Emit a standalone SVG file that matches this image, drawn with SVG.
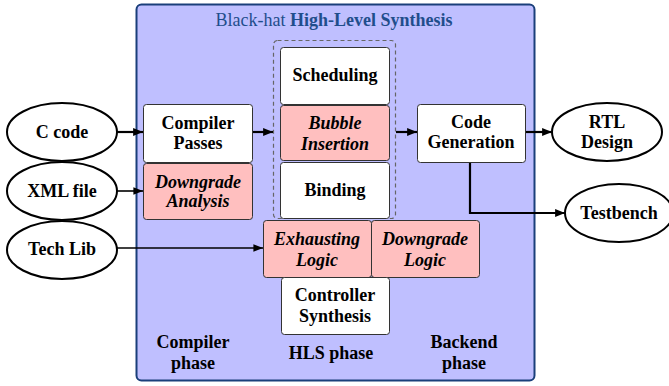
<svg xmlns="http://www.w3.org/2000/svg" width="669" height="386" viewBox="0 0 669 386">
<style>
.box{fill:#fff;stroke:#333;stroke-width:1}
.pink{fill:#ffbfbf;stroke:#333;stroke-width:1}
.ell{fill:#fff;stroke:#000;stroke-width:2}
.conn{fill:none;stroke:#000;stroke-width:2.2}
.thin{fill:none;stroke:#000;stroke-width:1.6}
</style>
<defs>
<marker id="ah" viewBox="0 0 10 10" refX="10" refY="5" markerWidth="4.5" markerHeight="4.5" orient="auto" markerUnits="strokeWidth">
<path d="M0,1 L10,5 L0,9 Z" fill="#000"/>
</marker>
<marker id="ah2" viewBox="0 0 10 10" refX="10" refY="5" markerWidth="6" markerHeight="6" orient="auto" markerUnits="strokeWidth">
<path d="M0,1 L10,5 L0,9 Z" fill="#000"/>
</marker>
</defs>
<g id="panel">
<rect x="136.5" y="4.5" width="398" height="376" rx="5" fill="#bfbfff" stroke="#1a3f7a" stroke-width="2"/>
<text font-family="Liberation Serif, serif" font-size="18" font-weight="bold" text-anchor="middle" fill="#1f4e8c" x="334" y="26"><tspan font-weight="normal">Black-hat </tspan>High-Level Synthesis</text>
<rect x="273.5" y="40.5" width="122" height="178" rx="4" fill="none" stroke="#666" stroke-width="1.2" stroke-dasharray="4,3"/>
<text font-family="Liberation Serif, serif" font-size="18" font-weight="bold" text-anchor="middle" x="193" y="348">Compiler</text>
<text font-family="Liberation Serif, serif" font-size="18" font-weight="bold" text-anchor="middle" x="193" y="369">phase</text>
<text font-family="Liberation Serif, serif" font-size="18" font-weight="bold" text-anchor="middle" x="331" y="359">HLS phase</text>
<text font-family="Liberation Serif, serif" font-size="18" font-weight="bold" text-anchor="middle" x="464" y="348">Backend</text>
<text font-family="Liberation Serif, serif" font-size="18" font-weight="bold" text-anchor="middle" x="464" y="369">phase</text>
</g>
<g id="connectors">
<line class="conn" x1="117" y1="132" x2="143" y2="132" marker-end="url(#ah)"/>
<line class="thin" x1="117" y1="191" x2="143" y2="191" marker-end="url(#ah2)"/>
<line class="thin" x1="117" y1="248" x2="263" y2="248" marker-end="url(#ah2)"/>
<line class="conn" x1="252" y1="132" x2="273" y2="132" marker-end="url(#ah)"/>
<line class="conn" x1="396" y1="132" x2="417" y2="132" marker-end="url(#ah)"/>
<line class="conn" x1="525" y1="132" x2="552" y2="132" marker-end="url(#ah)"/>
<polyline class="conn" points="470,162 470,213 565,213" marker-end="url(#ah)"/>
</g>
<g id="ccode"><ellipse class="ell" cx="62" cy="132" rx="55" ry="29"/><text font-family="Liberation Serif, serif" font-size="18" font-weight="bold" text-anchor="middle" x="62" y="138">C code</text></g>
<g id="xml"><ellipse class="ell" cx="62" cy="191" rx="55" ry="29"/><text font-family="Liberation Serif, serif" font-size="18" font-weight="bold" text-anchor="middle" x="62" y="197">XML file</text></g>
<g id="techlib"><ellipse class="ell" cx="62" cy="250" rx="55" ry="29"/><text font-family="Liberation Serif, serif" font-size="18" font-weight="bold" text-anchor="middle" x="62" y="255">Tech Lib</text></g>
<g id="compilerpasses"><rect class="box" x="143.5" y="104.5" width="109" height="58" rx="3"/><text font-family="Liberation Serif, serif" font-size="18" font-weight="bold" text-anchor="middle" x="198" y="129">Compiler</text><text font-family="Liberation Serif, serif" font-size="18" font-weight="bold" text-anchor="middle" x="198" y="149">Passes</text></g>
<g id="downgradeanalysis"><rect class="pink" x="143.5" y="163.5" width="109" height="56" rx="3"/><text font-family="Liberation Serif, serif" font-size="18" font-weight="bold" font-style="italic" text-anchor="middle" x="198" y="188">Downgrade</text><text font-family="Liberation Serif, serif" font-size="18" font-weight="bold" font-style="italic" text-anchor="middle" x="198" y="207">Analysis</text></g>
<g id="scheduling"><rect class="box" x="280.5" y="47.5" width="109" height="57" rx="3"/><text font-family="Liberation Serif, serif" font-size="18" font-weight="bold" text-anchor="middle" x="335" y="81">Scheduling</text></g>
<g id="bubble"><rect class="pink" x="280.5" y="105.5" width="109" height="55" rx="3"/><text font-family="Liberation Serif, serif" font-size="18" font-weight="bold" font-style="italic" text-anchor="middle" x="335" y="129">Bubble</text><text font-family="Liberation Serif, serif" font-size="18" font-weight="bold" font-style="italic" text-anchor="middle" x="335" y="150">Insertion</text></g>
<g id="binding"><rect class="box" x="280.5" y="162.5" width="109" height="56" rx="3"/><text font-family="Liberation Serif, serif" font-size="18" font-weight="bold" text-anchor="middle" x="335" y="196">Binding</text></g>
<g id="exhausting"><rect class="pink" x="263.5" y="220.5" width="108" height="57" rx="3"/><text font-family="Liberation Serif, serif" font-size="18" font-weight="bold" font-style="italic" text-anchor="middle" x="317" y="245">Exhausting</text><text font-family="Liberation Serif, serif" font-size="18" font-weight="bold" font-style="italic" text-anchor="middle" x="317" y="266">Logic</text></g>
<g id="downgradelogic"><rect class="pink" x="371.5" y="220.5" width="108" height="57" rx="3"/><text font-family="Liberation Serif, serif" font-size="18" font-weight="bold" font-style="italic" text-anchor="middle" x="425" y="245">Downgrade</text><text font-family="Liberation Serif, serif" font-size="18" font-weight="bold" font-style="italic" text-anchor="middle" x="425" y="266">Logic</text></g>
<g id="controller"><rect class="box" x="281.5" y="277.5" width="108" height="57" rx="3"/><text font-family="Liberation Serif, serif" font-size="18" font-weight="bold" text-anchor="middle" x="335" y="301">Controller</text><text font-family="Liberation Serif, serif" font-size="18" font-weight="bold" text-anchor="middle" x="335" y="322">Synthesis</text></g>
<g id="codegen"><rect class="box" x="417.5" y="104.5" width="108" height="58" rx="3"/><text font-family="Liberation Serif, serif" font-size="18" font-weight="bold" text-anchor="middle" x="471" y="128">Code</text><text font-family="Liberation Serif, serif" font-size="18" font-weight="bold" text-anchor="middle" x="471" y="148">Generation</text></g>
<g id="rtl"><ellipse class="ell" cx="607" cy="132" rx="55" ry="29"/><text font-family="Liberation Serif, serif" font-size="18" font-weight="bold" text-anchor="middle" x="607" y="128">RTL</text><text font-family="Liberation Serif, serif" font-size="18" font-weight="bold" text-anchor="middle" x="607" y="148">Design</text></g>
<g id="testbench"><ellipse class="ell" cx="619" cy="213" rx="54" ry="29"/><text font-family="Liberation Serif, serif" font-size="18" font-weight="bold" text-anchor="middle" x="619" y="219">Testbench</text></g>
</svg>
